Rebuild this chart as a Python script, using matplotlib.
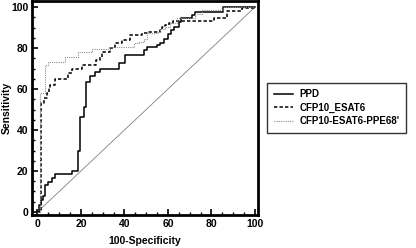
import matplotlib
matplotlib.use("Agg")
import matplotlib.pyplot as plt
from matplotlib.ticker import MultipleLocator

plt.rcParams['font.family'] = ['Liberation Sans', 'DejaVu Sans']
plt.rcParams['font.weight'] = 'bold'

# ROC corner points (100-Specificity, Sensitivity)
ppd_x = [0, 0.5, 1.5, 2.5, 3.7, 5, 6.5, 8.3, 15.9, 18.5, 19.7, 21.2, 22.5, 24.3, 26.6, 28.9,
         37.5, 40.4, 48.8, 50.3, 55, 56.5, 58, 60, 61.5, 63, 65, 66, 71, 72.5, 85.5, 100]
ppd_y = [0, 3.5, 6, 8, 13, 14.8, 16.4, 18.4, 20, 30, 46.5, 51.4, 63.6, 66.3, 68.5, 70,
         72.8, 76.6, 79, 80.6, 81.5, 82.5, 84.5, 87, 88.8, 90.4, 92.8, 94.5, 96.1, 97.7, 100, 100]

cfp_x = [0, 1.7, 3.2, 4.4, 5.5, 6, 8.1, 14.2, 15.7, 20.5, 26.8, 28.8, 29.5, 30.3, 33.5, 35.5,
         39, 42.7, 48, 51, 56.4, 57.2, 58.7, 60.5, 62.5, 81, 87.3, 94, 100]
cfp_y = [0, 53, 55.5, 58, 60.3, 62, 64.8, 67.7, 70, 71.7, 74.1, 75.8, 77.4, 78.2, 80, 82.3,
         83.9, 86.3, 87.2, 88, 88.8, 90.4, 91.5, 92.3, 93.3, 94.8, 98, 99.5, 100]

ppe_x = [0, 1, 3.5, 5, 12.7, 18.8, 24.9, 33.5, 44.2, 46.5, 48.8, 50.3, 55.6, 56.4, 58.7,
         61, 64.1, 72.5, 75.5, 85.5, 100]
ppe_y = [0, 58, 72, 73.3, 75.5, 78, 79.8, 80.6, 82.6, 83.1, 84.7, 87.2, 88, 89.6, 90.4,
         92.3, 94.5, 96.9, 98.5, 100, 100]

diag = [0, 100]
xticks = [0, 20, 40, 60, 80, 100]
yticks = [0, 20, 40, 60, 80, 100]

fig = plt.figure(figsize=(4.16, 2.48), dpi=100)
ax = fig.add_axes([0.078, 0.133, 0.542, 0.861])

ax.plot(diag, diag, color='#808080', lw=0.6)
ax.plot(ppd_x, ppd_y, drawstyle='steps-post', color='black', lw=1.1, label='PPD')
ax.plot(cfp_x, cfp_y, drawstyle='steps-post', color='black', lw=1.1,
        linestyle=(0, (2.2, 1.4)), label='CFP10_ESAT6')
ax.plot(ppe_x, ppe_y, drawstyle='steps-post', color='#909090', lw=0.8,
        linestyle=(0, (1, 1)), label="CFP10-ESAT6-PPE68'")

ax.set_xlim(-2.3, 101.4)
ax.set_ylim(-1.5, 102.8)
ax.set_xticks(xticks)
ax.set_yticks(yticks)
ax.xaxis.set_minor_locator(MultipleLocator(5))
ax.yaxis.set_minor_locator(MultipleLocator(5))
ax.tick_params(which='major', direction='in', length=4, width=1.2, labelsize=7.5, pad=3)
ax.tick_params(which='minor', direction='in', length=2.5, width=1.0)
for lab in ax.get_xticklabels() + ax.get_yticklabels():
    lab.set_fontweight('bold')
for s in ax.spines.values():
    s.set_linewidth(2.0)

ax.set_xlabel('100-Specificity', fontsize=7.5, fontweight='bold', labelpad=5)
ax.set_ylabel('Sensitivity', fontsize=7.5, fontweight='bold')
ax.yaxis.set_label_coords(-0.092, 0.5)

leg = fig.legend(loc='upper left', bbox_to_anchor=(0.642, 0.667), fontsize=7,
                 frameon=True, fancybox=False, edgecolor='black', handlelength=2.0,
                 borderpad=0.7, labelspacing=0.35, handletextpad=0.6, borderaxespad=0)
leg.get_frame().set_linewidth(1.0)
for t in leg.get_texts():
    t.set_fontweight('bold')

fig.savefig('out.png', dpi=100)
